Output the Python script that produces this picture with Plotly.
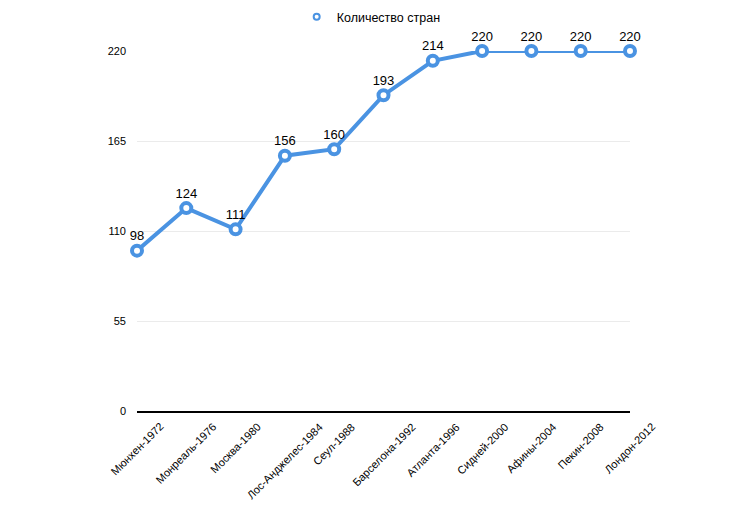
import plotly.graph_objects as go

categories = ["Мюнхен-1972", "Монреаль-1976", "Москва-1980", "Лос-Анджелес-1984",
              "Сеул-1988", "Барселона-1992", "Атланта-1996", "Сидней-2000",
              "Афины-2004", "Пекин-2008", "Лондон-2012"]
countries = [98, 124, 111, 156, 160, 193, 214, 220, 220, 220, 220]
y_ticks = [0, 55, 110, 165, 220]
series_name = "Количество стран"

blue = "#4A93E2"
font_family = "Liberation Sans, Arial, sans-serif"

fig = go.Figure()
fig.add_trace(go.Scatter(
    x=categories, y=countries, name=series_name,
    mode="lines+markers+text",
    text=[str(v) for v in countries],
    textposition="top center",
    textfont=dict(size=13, color="#000000", family=font_family),
    line=dict(color=blue, width=4),
    marker=dict(size=10, color="#ffffff", line=dict(color=blue, width=4)),
    cliponaxis=False,
    showlegend=False,
))
# legend-only entry showing just a small marker symbol
fig.add_trace(go.Scatter(
    x=[None], y=[None], name=series_name, mode="markers",
    marker=dict(size=6, symbol="circle", color="#ffffff", line=dict(color=blue, width=2)),
    showlegend=True,
))

# category labels: rotated, centred under each category position
for cat in categories:
    fig.add_annotation(
        x=cat, xref="x", y=0, yref="paper",
        text=cat, textangle=-45, showarrow=False,
        xanchor="center", yanchor="top", yshift=-7,
        font=dict(size=11, color="#000000", family=font_family),
    )

fig.update_layout(
    width=730, height=518,
    margin=dict(l=129, r=108, t=43, b=115, autoexpand=False),
    paper_bgcolor="#ffffff", plot_bgcolor="#ffffff",
    font=dict(family=font_family, size=11, color="#000000"),
    showlegend=True,
    legend=dict(orientation="h", x=0.475, xanchor="center", y=1.094, yanchor="middle",
                font=dict(size=12.5), itemwidth=30, bgcolor="rgba(0,0,0,0)"),
    xaxis=dict(
        type="category", categoryarray=categories, categoryorder="array",
        range=[0, len(categories) - 1],
        showgrid=False, showline=True, linecolor="#000000", linewidth=1.5,
        ticks="", showticklabels=False,
        zeroline=False,
    ),
    yaxis=dict(
        range=[0, 220], tickvals=y_ticks, ticktext=[str(v) for v in y_ticks],
        showgrid=True, gridcolor="#ebebeb", gridwidth=1,
        zeroline=False, showline=False, ticks="",
        tickfont=dict(size=11), ticklabelstandoff=10,
    ),
)

fig.write_html("out.html")
